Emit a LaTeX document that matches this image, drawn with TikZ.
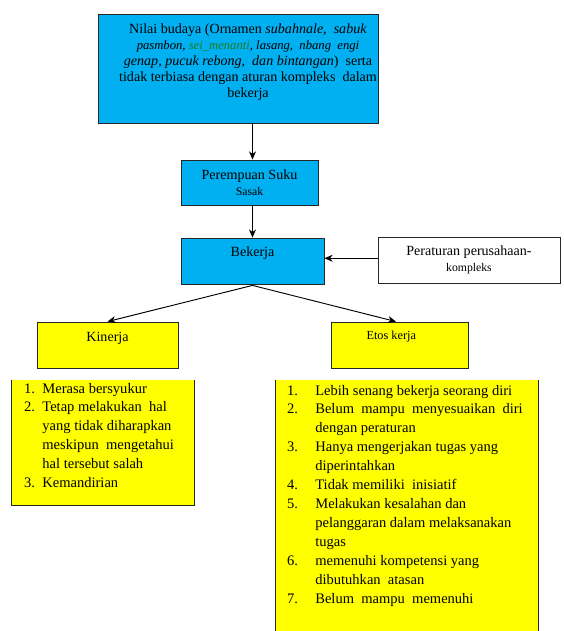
\documentclass[tikz,border=0pt]{standalone}
\usepackage{fontspec}
\setmainfont{Liberation Serif}
\usetikzlibrary{positioning}
\usetikzlibrary{arrows.meta}

\definecolor{boxblue}{HTML}{00B0F0}
\definecolor{boxyellow}{HTML}{FFFF00}
\definecolor{termgreen}{HTML}{1E7A1E}

\tikzset{
    bluebox/.style={draw=black!85, fill=boxblue, line width=0.8pt, inner sep=0pt},
    yellowbox/.style={draw=black!85, fill=boxyellow, line width=0.8pt, inner sep=0pt},
    whitebox/.style={draw=black!85, fill=white, line width=0.8pt, inner sep=0pt},
    flow/.style={-{Stealth[length=7pt,width=6pt]}, line width=0.8pt},
    txt/.style={font=\fontsize{12}{13.7}\selectfont, align=center, inner sep=0pt},
    listtxt/.style={font=\fontsize{12.4}{16.2}\selectfont, anchor=base west, inner sep=0pt},
}

\begin{document}
\begin{tikzpicture}[x=0.03cm, y=-0.03cm]
        \useasboundingbox (0,0) rectangle (564,631);

        % boxes
        \node[bluebox, minimum width=8.4cm, minimum height=3.27cm] (budaya) at (238,68.5) {};
        \node[txt] (budayatext) at (248,62) {Nilai budaya (Ornamen \textit{subahnale,}\ \ \textit{sabuk}\\
            {\fontsize{10.8}{13.7}\selectfont\textit{pasmbon, \textcolor{termgreen}{sei\_menanti}, lasang,\ \ nbang\ \ engi}}\\
            \textit{genap, pucuk rebong,\ \ dan bintangan})\ \ serta\\
            tidak terbiasa\ dengan aturan kompleks\ \ dalam\\
            bekerja};
        \node[bluebox, txt, minimum width=4.11cm, minimum height=1.35cm] (perempuan) at (249.5,182.5)
            {Perempuan Suku\\{\fontsize{10}{12}\selectfont Sasak}};
        \node[bluebox, txt, minimum width=4.29cm, text height=15.4pt, text depth=24.6pt] (bekerja) at (252.5,261.5) {Bekerja};
        \node[whitebox, txt, minimum width=5.46cm, minimum height=1.38cm] (peraturan) at (469,260)
            {Peraturan perusahaan-\\{\fontsize{10}{13}\selectfont kompleks}};
        \node[yellowbox, txt, minimum width=4.23cm, text height=16.2pt, text depth=23pt] (kinerja) at (107.5,345) {Kinerja};
        \node[yellowbox, txt, minimum width=4.11cm, text height=15pt, text depth=24.2pt] (etos) at (399.5,345)
            {{\fontsize{10.5}{12}\selectfont Etos kerja\hspace{14pt}}};

        % arrows
        \draw[flow] (budaya.south -| bekerja.center) -- (perempuan.north -| bekerja.center);
        \draw[flow] (perempuan.south -| bekerja.center) -- (bekerja.north);
        \draw[flow] ([yshift=1.5pt]peraturan.west) -- ([yshift=1.5pt]peraturan.west -| bekerja.east);
        \draw[flow] (bekerja.south) -- (kinerja.north);
        \draw[flow] (bekerja.south) -- ([xshift=-3pt]etos.north);

        % lists
        \fill[boxyellow] (11,380) rectangle (194,505);
        \draw[black!85, line width=0.8pt] (11,380) -- (11,505) -- (194,505) -- (194,380);
        \node[listtxt] (kinerjalist) at (24,393) {%
            \begin{tabular}[t]{@{}p{15.5pt}@{}l@{}}
            1. & Merasa bersyukur\\
            2. & Tetap melakukan\ \ hal\\
               & yang tidak diharapkan\\
               & meskipun\ \ mengetahui\\
               & hal tersebut salah\\
            3. & Kemandirian
            \end{tabular}};

        \fill[boxyellow] (275,380) rectangle (538,631);
        \draw[black!85, line width=0.8pt] (275,380) -- (275,632) (538,632) -- (538,380);
        \node[listtxt] (etoslist) at (287,395) {%
            \begin{tabular}[t]{@{}p{24pt}@{}l@{}}
            1. & Lebih senang bekerja seorang diri\\
            2. & Belum\ \ mampu\ \ menyesuaikan\ \ diri\\
               & dengan peraturan\\
            3. & Hanya mengerjakan tugas yang\\
               & diperintahkan\\
            4. & Tidak memiliki\ \ inisiatif\\
            5. & Melakukan kesalahan dan\\
               & pelanggaran dalam melaksanakan\\
               & tugas\\
            6. & memenuhi\ kompetensi\ yang\\
               & dibutuhkan\ \ atasan\\
            7. & Belum\ \ mampu\ \ memenuhi
            \end{tabular}};

\end{tikzpicture}
\end{document}
